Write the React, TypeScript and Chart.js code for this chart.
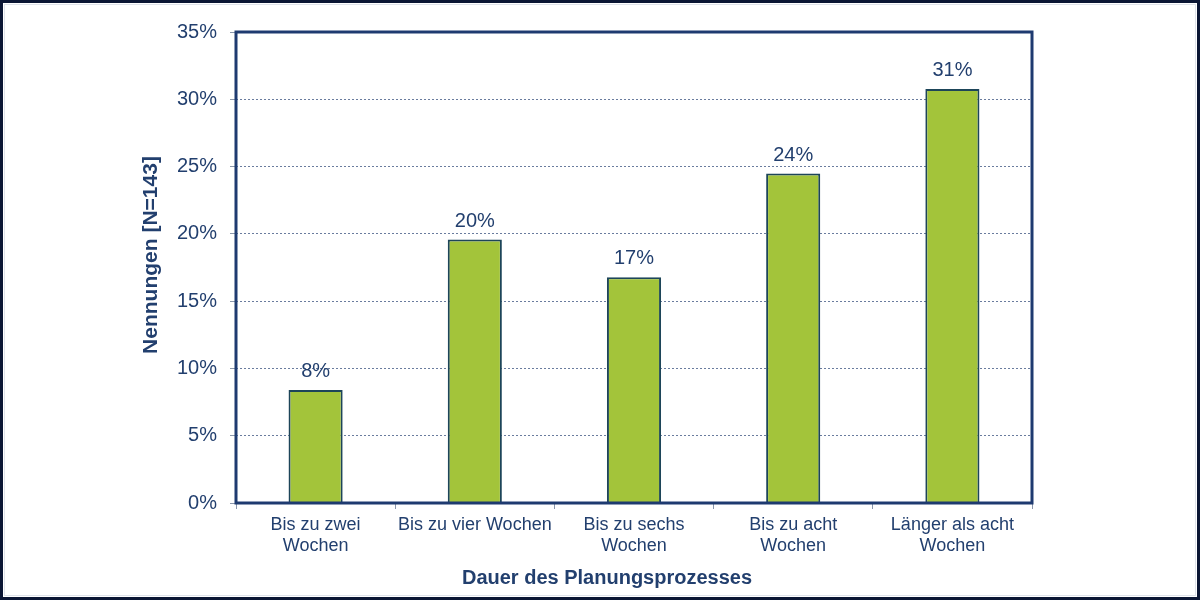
import React, { useEffect, useRef } from "react";
import { Chart, registerables } from "chart.js";

Chart.register(...registerables);

const categories: string[][] = [
  ["Bis zu zwei", "Wochen"],
  ["Bis zu vier Wochen"],
  ["Bis zu sechs", "Wochen"],
  ["Bis zu acht", "Wochen"],
  ["Länger als acht", "Wochen"],
];
const shares: number[] = [8.39, 19.58, 16.78, 24.48, 30.77];
const yTickValues: number[] = [0, 5, 10, 15, 20, 25, 30, 35];
const yAxisTitle = "Nennungen [N=143]";
const xAxisTitle = "Dauer des Planungsprozesses";

const FONT = "'Liberation Sans', Arial, sans-serif";
const NAVY = "#1e3a70";
const TEXT = "#223f6e";

const decorPlugin = {
  id: "decor",
  afterDatasetsDraw(chart: any) {
    const { ctx, chartArea } = chart;
    ctx.save();
    // plot frame
    ctx.strokeStyle = NAVY;
    ctx.lineWidth = 3;
    ctx.strokeRect(
      chartArea.left,
      chartArea.top,
      chartArea.right - chartArea.left,
      chartArea.bottom - chartArea.top
    );
    // value labels
    const meta = chart.getDatasetMeta(0);
    ctx.fillStyle = TEXT;
    ctx.font = `20px ${FONT}`;
    ctx.textAlign = "center";
    ctx.textBaseline = "alphabetic";
    meta.data.forEach((bar: any, i: number) => {
      const v = chart.data.datasets[0].data[i] as number;
      ctx.fillText(`${Math.round(v)}%`, bar.x, bar.y - 13);
    });
    ctx.restore();
  },
  afterDraw(chart: any) {
    const { ctx, width, height } = chart;
    ctx.save();
    // axis titles
    ctx.fillStyle = TEXT;
    ctx.font = `bold 20px ${FONT}`;
    ctx.textAlign = "center";
    ctx.textBaseline = "alphabetic";
    ctx.fillText(xAxisTitle, 607, 584);
    ctx.translate(157, 255);
    ctx.rotate(-Math.PI / 2);
    ctx.font = `bold 21px ${FONT}`;
    ctx.fillText(yAxisTitle, 0, 0);
    ctx.restore();
    // outer frame
    ctx.save();
    ctx.strokeStyle = "#dfe3ea";
    ctx.lineWidth = 1;
    ctx.strokeRect(4.5, 4.5, width - 9, height - 9);
    ctx.strokeStyle = "#0b1634";
    ctx.lineWidth = 3;
    ctx.strokeRect(1.5, 1.5, width - 3, height - 3);
    ctx.restore();
  },
};

export default function App() {
  const ref = useRef<HTMLCanvasElement | null>(null);

  useEffect(() => {
    if (!ref.current) return;
    const chart = new Chart(ref.current, {
      type: "bar",
      data: {
        labels: categories,
        datasets: [
          {
            data: shares,
            backgroundColor: "#a3c43a",
            borderColor: "#1d4559",
            borderWidth: 2,
            categoryPercentage: 1,
            barPercentage: 0.34,
          },
        ],
      },
      options: {
        responsive: false,
        animation: false,
        devicePixelRatio: 1,
        layout: { padding: { left: 0, top: 32, right: 168, bottom: 0 } },
        plugins: {
          legend: { display: false },
          tooltip: { enabled: false },
          title: { display: false },
        },
        scales: {
          x: {
            afterFit: (s: any) => {
              s.height = 97;
            },
            grid: {
              display: true,
              drawOnChartArea: false,
              drawTicks: true,
              tickLength: 6,
              tickColor: "#8a96ab",
              tickBorderDash: [],
              offset: true,
            },
            border: { display: false },
            ticks: {
              color: TEXT,
              padding: 5,
              maxRotation: 0,
              autoSkip: false,
              font: { family: FONT, size: 18, lineHeight: 1.2 },
            },
          },
          y: {
            min: 0,
            max: 35,
            afterFit: (s: any) => {
              s.width = 236;
            },
            afterBuildTicks: (s: any) => {
              s.ticks = yTickValues.map((v) => ({ value: v }));
            },
            grid: {
              display: true,
              color: "#6a7c9e",
              lineWidth: 1,
              drawTicks: true,
              tickLength: 6,
              tickColor: "#8a96ab",
              tickBorderDash: [],
            },
            border: { display: false, dash: [2, 2] },
            ticks: {
              color: TEXT,
              padding: 13,
              font: { family: FONT, size: 20 },
              callback: (v: any) => `${v}%`,
            },
          },
        },
      },
      plugins: [decorPlugin],
    });
    return () => chart.destroy();
  }, []);

  return (
    <div
      style={{
        position: "absolute",
        left: 0,
        top: 0,
        width: 1200,
        height: 600,
        background: "#ffffff",
      }}
    >
      <canvas ref={ref} width={1200} height={600} />
    </div>
  );
}
